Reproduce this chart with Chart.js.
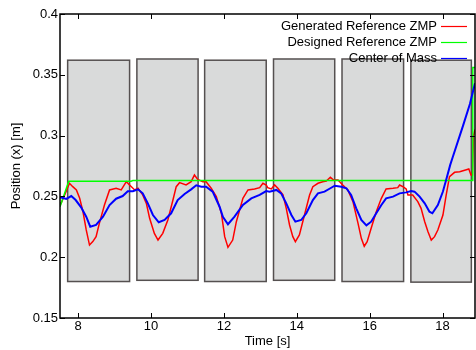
<!DOCTYPE html>
<html>
<head>
<meta charset="utf-8">
<script src="https://cdn.jsdelivr.net/npm/chart.js@4.4.1/dist/chart.umd.min.js"></script>
<style>
  html, body { margin: 0; padding: 0; background: #fff; }
  #wrap { width: 476px; height: 350px; }
</style>
</head>
<body>
<div id="wrap"><canvas id="zmpChart"></canvas></div>
<script>
// tick labels
const xTicks = [8, 10, 12, 14, 16, 18];
const yTicks = [0.15, 0.2, 0.25, 0.3, 0.35, 0.4];
const yTickLabels = ['0.15', '0.2', '0.25', '0.3', '0.35', '0.4'];

// footprints (support polygons)
const footStart = [7.71, 9.61, 11.47, 13.36, 15.24, 17.13];
const footEnd = [9.41, 11.29, 13.16, 15.04, 16.93, 18.79];
const footTop = [0.362, 0.363, 0.362, 0.363, 0.363, 0.362];
const footBottom = [0.180, 0.181, 0.180, 0.181, 0.180, 0.1795];

// Generated Reference ZMP
const genTime = [7.50, 7.53, 7.64, 7.76, 7.85, 7.95, 8.04, 8.13, 8.22, 8.31, 8.40, 8.49, 8.58, 8.72, 8.86,
  9.04, 9.18, 9.32, 9.41, 9.55, 9.64, 9.77, 9.87, 9.96, 10.09, 10.19, 10.32, 10.46, 10.60, 10.69, 10.78,
  10.96, 11.10, 11.19, 11.28, 11.42, 11.51, 11.65, 11.79, 11.93, 12.02, 12.11, 12.24, 12.34, 12.52, 12.66,
  12.84, 12.98, 13.07, 13.16, 13.20, 13.30, 13.39, 13.48, 13.62, 13.71, 13.80, 13.89, 13.96, 14.07, 14.21,
  14.35, 14.44, 14.58, 14.71, 14.81, 14.92, 15.01, 15.13, 15.26, 15.40, 15.54, 15.68, 15.77, 15.85, 15.93,
  16.04, 16.18, 16.32, 16.45, 16.64, 16.77, 16.82, 16.91, 17.00, 17.05, 17.18, 17.32, 17.41, 17.51, 17.60,
  17.69, 17.78, 17.87, 18.01, 18.10, 18.19, 18.33, 18.47, 18.63, 18.72, 18.78, 18.82, 18.85, 18.89];
const genZmp = [0.245, 0.2443, 0.252, 0.2608, 0.258, 0.2553, 0.2484, 0.2374, 0.2224, 0.210, 0.2128, 0.2169, 0.2278, 0.2429, 0.2553,
  0.2567, 0.2553, 0.2621, 0.2594, 0.2553, 0.2567, 0.2512, 0.2443, 0.232, 0.2196, 0.2141, 0.2196, 0.2306, 0.247, 0.258, 0.2613,
  0.2594, 0.2621, 0.2676, 0.264, 0.2621, 0.2621, 0.2567, 0.2498, 0.2361, 0.2169, 0.2081, 0.2141, 0.2292, 0.2484, 0.2553,
  0.2561, 0.2572, 0.2608, 0.2594, 0.2572, 0.2561, 0.2594, 0.2567, 0.2512, 0.2402, 0.2265, 0.2169, 0.2128, 0.2183, 0.2347,
  0.2512, 0.258, 0.2608, 0.2621, 0.2627, 0.2657, 0.2635, 0.2635, 0.2594, 0.2553, 0.2457, 0.2278, 0.2155, 0.209, 0.2128,
  0.2238, 0.2374, 0.2484, 0.2561, 0.2567, 0.2572, 0.2594, 0.258, 0.2561, 0.2512, 0.2512, 0.2457, 0.2402, 0.2292, 0.221,
  0.2141, 0.2169, 0.2224, 0.2347, 0.2512, 0.2662, 0.2698, 0.2703, 0.2717, 0.2725, 0.2676, 0.2676, 0.300, 0.305];

// Designed Reference ZMP
const desTime = [7.50, 7.74, 9.45, 9.50, 18.81, 18.83, 18.89];
const desZmp = [0.2415, 0.2625, 0.2625, 0.263, 0.263, 0.356, 0.356];

// Center of Mass
const comTime = [7.50, 7.51, 7.67, 7.81, 7.93, 8.08, 8.22, 8.33, 8.49, 8.68, 8.86, 9.04, 9.22, 9.36, 9.50, 9.64,
  9.77, 9.91, 10.05, 10.21, 10.37, 10.55, 10.73, 10.92, 11.10, 11.24, 11.38, 11.51, 11.69, 11.88, 11.97, 12.11,
  12.29, 12.52, 12.75, 12.98, 13.16, 13.25, 13.44, 13.57, 13.71, 13.85, 13.96, 14.12, 14.26, 14.44, 14.58, 14.76,
  14.92, 15.04, 15.22, 15.36, 15.49, 15.63, 15.77, 15.91, 16.04, 16.18, 16.32, 16.45, 16.64, 16.82, 17.00, 17.14,
  17.23, 17.37, 17.51, 17.64, 17.72, 17.87, 18.01, 18.12, 18.21, 18.28, 18.56, 18.75, 18.89];
const comPos = [0.249, 0.2493, 0.2479, 0.2503, 0.247, 0.241, 0.2333, 0.2251, 0.2265, 0.2333, 0.2429, 0.2481, 0.2503, 0.2542, 0.2542, 0.2558,
  0.2525, 0.2443, 0.2347, 0.2287, 0.2306, 0.2361, 0.247, 0.252, 0.2558, 0.2591, 0.258, 0.258, 0.2539, 0.2415, 0.2333, 0.2271,
  0.2333, 0.2429, 0.2484, 0.2512, 0.2544, 0.2539, 0.2553, 0.2525, 0.2443, 0.2347, 0.2292, 0.2306, 0.2361, 0.247, 0.2525, 0.2539,
  0.2567, 0.2588, 0.258, 0.2567, 0.2512, 0.2402, 0.2306, 0.2262, 0.2292, 0.2361, 0.2429, 0.2484, 0.2498, 0.2525, 0.2533, 0.2544,
  0.2539, 0.2498, 0.2443, 0.2374, 0.2361, 0.2429, 0.254, 0.266, 0.2759, 0.2824, 0.308, 0.326, 0.343];

const toPoints = (xs, ys) => xs.map((x, i) => ({ x: x, y: ys[i] }));

const FONT = { family: "'Liberation Sans', Arial, sans-serif", size: 13 };

// gray footprint boxes behind the curves
const footprintPlugin = {
  id: 'footprints',
  beforeDatasetsDraw(chart) {
    const { ctx, scales: { x, y } } = chart;
    ctx.save();
    ctx.fillStyle = '#d9dada';
    ctx.strokeStyle = '#555050';
    ctx.lineWidth = 1.5;
    for (let i = 0; i < footStart.length; i++) {
      const x0 = x.getPixelForValue(footStart[i]);
      const x1 = x.getPixelForValue(footEnd[i]);
      const y0 = y.getPixelForValue(footTop[i]);
      const y1 = y.getPixelForValue(footBottom[i]);
      ctx.fillRect(x0, y0, x1 - x0, y1 - y0);
      ctx.strokeRect(x0, y0, x1 - x0, y1 - y0);
    }
    ctx.restore();
  }
};

// gnuplot-like frame with inward ticks on all sides, plus the legend
const framePlugin = {
  id: 'frame',
  afterDatasetsDraw(chart) {
    const { ctx, chartArea: a, scales: { x, y } } = chart;
    ctx.save();
    ctx.strokeStyle = '#000';
    ctx.lineWidth = 1;
    ctx.beginPath();
    x.ticks.forEach(t => {
      const px = Math.round(x.getPixelForValue(t.value)) + 0.5;
      ctx.moveTo(px, a.bottom); ctx.lineTo(px, a.bottom - 5);
      ctx.moveTo(px, a.top); ctx.lineTo(px, a.top + 5);
    });
    y.ticks.forEach(t => {
      const py = Math.round(y.getPixelForValue(t.value)) + 0.5;
      ctx.moveTo(a.left, py); ctx.lineTo(a.left + 5, py);
      ctx.moveTo(a.right, py); ctx.lineTo(a.right - 5, py);
    });
    ctx.stroke();
    ctx.lineWidth = 1.5;
    ctx.strokeRect(a.left, a.top, a.right - a.left, a.bottom - a.top);

    // legend: text right-aligned, line sample on the right
    ctx.font = "13px 'Liberation Sans', Arial, sans-serif";
    ctx.textAlign = 'right';
    ctx.textBaseline = 'middle';
    ctx.fillStyle = '#000';
    chart.data.datasets.forEach((ds, i) => {
      const ly = 26 + i * 16;
      ctx.fillText(ds.label, 437, ly);
      ctx.strokeStyle = ds.borderColor;
      ctx.lineWidth = 1.2;
      ctx.beginPath();
      ctx.moveTo(441, ly + 0.5);
      ctx.lineTo(467, ly + 0.5);
      ctx.stroke();
    });
    ctx.restore();
  }
};

new Chart(document.getElementById('zmpChart'), {
  type: 'line',
  data: {
    datasets: [
      {
        label: 'Generated Reference ZMP',
        data: toPoints(genTime, genZmp),
        borderColor: '#ff0000',
        borderWidth: 1.5,
        order: 3
      },
      {
        label: 'Designed Reference ZMP',
        data: toPoints(desTime, desZmp),
        borderColor: '#00ff00',
        borderWidth: 1.5,
        order: 2
      },
      {
        label: 'Center of Mass',
        data: toPoints(comTime, comPos),
        borderColor: '#0000ff',
        borderWidth: 2,
        order: 1
      }
    ]
  },
  options: {
    responsive: true,
    maintainAspectRatio: false,
    animation: false,
    layout: { padding: { top: 14, right: 1, left: 0, bottom: 0 } },
    elements: { point: { radius: 0 }, line: { tension: 0 } },
    plugins: { legend: { display: false }, tooltip: { enabled: false } },
    scales: {
      x: {
        type: 'linear',
        min: 7.5,
        max: 18.89,
        afterBuildTicks: s => { s.ticks = xTicks.map(v => ({ value: v })); },
        afterFit: s => { s.height = 32; },
        grid: { display: false, drawTicks: false },
        border: { display: false },
        ticks: { color: '#000', font: FONT, padding: 1, maxRotation: 0 },
        title: { display: true, text: 'Time [s]', color: '#000', font: FONT, padding: { top: 0, bottom: 1 } }
      },
      y: {
        type: 'linear',
        min: 0.15,
        max: 0.4,
        afterBuildTicks: s => { s.ticks = yTicks.map(v => ({ value: v })); },
        afterFit: s => { s.width = 60; },
        grid: { display: false, drawTicks: false },
        border: { display: false },
        ticks: {
          color: '#000',
          font: FONT,
          padding: 2,
          callback: (v, i) => yTickLabels[i]
        },
        title: { display: true, text: 'Position (x) [m]', color: '#000', font: FONT, padding: { top: 9, bottom: 0 } }
      }
    }
  },
  plugins: [footprintPlugin, framePlugin]
});
</script>
</body>
</html>
